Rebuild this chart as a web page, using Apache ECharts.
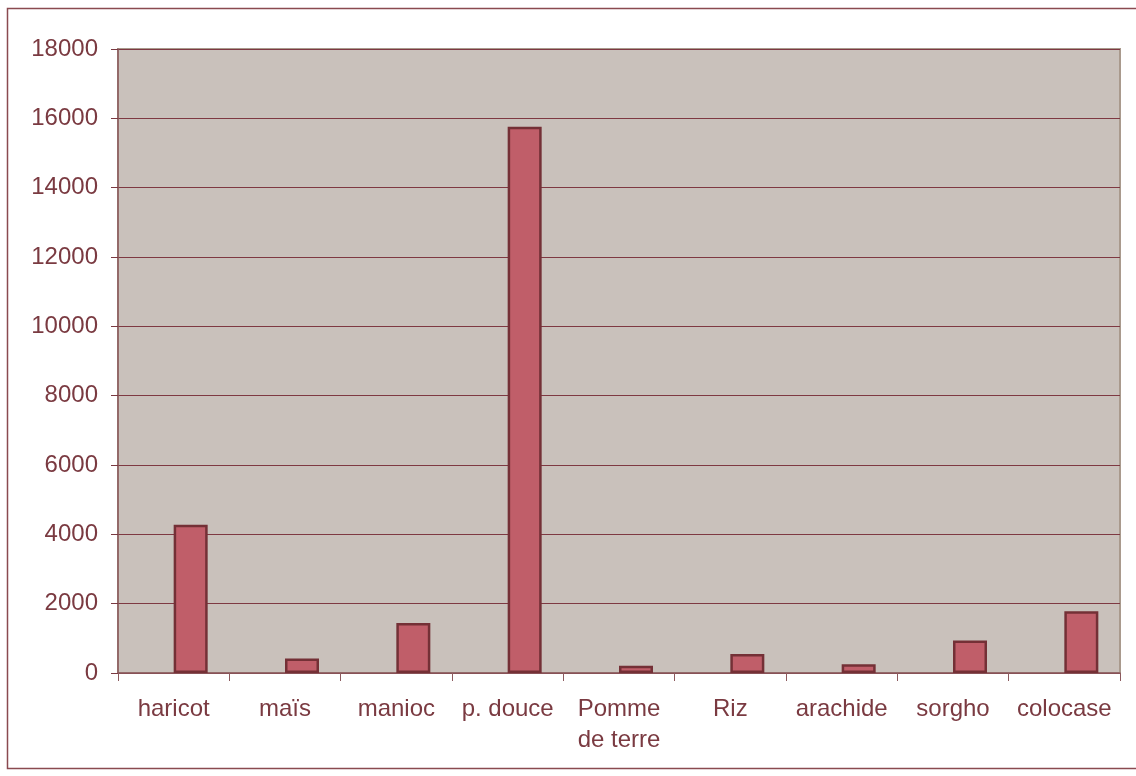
<!DOCTYPE html>
<html>
<head>
<meta charset="utf-8">
<style>
  html, body { margin: 0; padding: 0; background: #ffffff; }
  #chart { width: 1136px; height: 776px; }
</style>
<script src="https://cdn.jsdelivr.net/npm/echarts@6/dist/echarts.min.js"></script>
</head>
<body>
<div id="chart"></div>
<script>
// Crops and production values
const categories = ['haricot', 'maïs', 'manioc', 'p. douce', 'Pomme\nde terre', 'Riz', 'arachide', 'sorgho', 'colocase'];
const values = [4280, 420, 1440, 15760, 210, 550, 250, 940, 1780];
// an empty companion series keeps the slot left of each bar free
const emptySeries = [];
const yTicks = { min: 0, max: 18000, interval: 2000 };

const textColor = '#7A3A41';
const lineColor = '#7E3942';
const font = 'Liberation Sans, Arial, sans-serif';

const chart = echarts.init(document.getElementById('chart'), null, { renderer: 'canvas' });

chart.setOption({
  animation: false,
  backgroundColor: '#ffffff',
  textStyle: { fontFamily: font },
  graphic: [{
    type: 'rect',
    shape: { x: 7.5, y: 8.5, width: 1140, height: 760 },
    style: { fill: 'none', stroke: '#8A4A50', lineWidth: 1.5 },
    z: -10
  }],
  grid: {
    left: 118, top: 49, right: 16, bottom: 103,
    show: true,
    backgroundColor: '#C9C1BB',
    borderColor: '#A99A8D',
    borderWidth: 2
  },
  xAxis: {
    type: 'category',
    data: categories,
    axisLine: { lineStyle: { color: '#8C5A5E', width: 1.5 } },
    axisTick: { show: true, length: 8, lineStyle: { color: '#8C5A5E' } },
    axisLabel: {
      color: textColor, fontSize: 24, margin: 21, lineHeight: 31,
      interval: 0, fontFamily: font
    }
  },
  yAxis: {
    type: 'value',
    min: yTicks.min, max: yTicks.max, interval: yTicks.interval,
    axisLine: { show: true, lineStyle: { color: '#8C5A5E', width: 1.5 } },
    axisTick: { show: true, length: 7, lineStyle: { color: '#7A3A41' } },
    splitLine: { lineStyle: { color: lineColor, width: 1 } },
    axisLabel: {
      color: textColor, fontSize: 24, margin: 20, fontFamily: font,
      formatter: v => String(v)
    }
  },
  series: [{
    type: 'bar',
    data: emptySeries,
    barWidth: 34,
    barGap: '0%'
  }, {
    type: 'bar',
    data: values,
    barWidth: 34,
    barGap: '0%',
    itemStyle: { color: '#C05E69', borderColor: '#743036', borderWidth: 2.5 }
  }]
});
</script>
</body>
</html>
